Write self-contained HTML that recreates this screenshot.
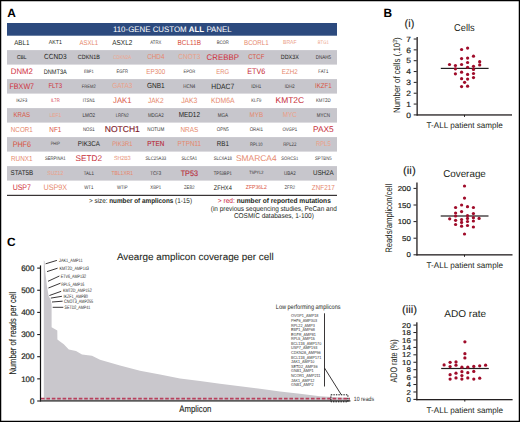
<!DOCTYPE html>
<html><head><meta charset="utf-8"><style>
html,body{margin:0;padding:0;background:#fff;}
body{width:520px;height:422px;overflow:hidden;}
svg{display:block;}
text{font-family:"Liberation Sans",sans-serif;text-rendering:geometricPrecision;}
</style></head><body>
<svg width="520" height="422" viewBox="0 0 520 422">
<rect width="520" height="422" fill="#fff"/>
<text x="7.30" y="17.40" font-size="11.90" fill="#000" font-weight="bold">A</text>
<rect x="7" y="23" width="330" height="12.7" fill="#2c4a7e"/>
<text x="172.3" y="31.8" font-size="8" fill="#fff" text-anchor="middle" textLength="118.7" lengthAdjust="spacingAndGlyphs">110-GENE CUSTOM <tspan font-weight="bold">ALL</tspan> PANEL</text>
<rect x="7" y="50.10" width="330" height="14.50" fill="#c7c6cc"/>
<rect x="7" y="79.10" width="330" height="14.50" fill="#c7c6cc"/>
<rect x="7" y="108.10" width="330" height="14.50" fill="#c7c6cc"/>
<rect x="7" y="137.10" width="330" height="14.50" fill="#c7c6cc"/>
<rect x="7" y="166.10" width="330" height="14.50" fill="#c7c6cc"/>
<rect x="7" y="194.80" width="330" height="1.1" fill="#231f20"/>
<text x="14.20" y="44.79" font-size="7.08" fill="#231f20" textLength="15.20" lengthAdjust="spacingAndGlyphs">ABL1</text>
<text x="48.80" y="44.37" font-size="5.93" fill="#231f20" textLength="13.00" lengthAdjust="spacingAndGlyphs">AKT1</text>
<text x="79.45" y="44.70" font-size="6.85" fill="#e6886c" textLength="18.70" lengthAdjust="spacingAndGlyphs">ASXL1</text>
<text x="112.35" y="44.86" font-size="7.29" fill="#231f20" textLength="19.90" lengthAdjust="spacingAndGlyphs">ASXL2</text>
<text x="150.35" y="44.06" font-size="5.04" fill="#3a3839" textLength="10.90" lengthAdjust="spacingAndGlyphs">ATRX</text>
<text x="177.55" y="44.88" font-size="7.34" fill="#d9543f" textLength="23.50" lengthAdjust="spacingAndGlyphs">BCL11B</text>
<text x="216.75" y="44.05" font-size="5.03" fill="#3a3839" textLength="12.10" lengthAdjust="spacingAndGlyphs">BCOR</text>
<text x="244.05" y="44.75" font-size="6.98" fill="#e6886c" textLength="24.50" lengthAdjust="spacingAndGlyphs">BCORL1</text>
<text x="283.05" y="44.32" font-size="5.77" fill="#eba088" textLength="13.50" lengthAdjust="spacingAndGlyphs">BRAF</text>
<text x="317.80" y="44.06" font-size="5.05" fill="#eea68e" textLength="11.00" lengthAdjust="spacingAndGlyphs">BTG1</text>
<text x="17.00" y="58.76" font-size="5.63" fill="#231f20" textLength="9.60" lengthAdjust="spacingAndGlyphs">CBL</text>
<text x="44.05" y="59.42" font-size="7.45" fill="#231f20" textLength="22.50" lengthAdjust="spacingAndGlyphs">CCND3</text>
<text x="77.85" y="58.95" font-size="6.15" fill="#231f20" textLength="21.90" lengthAdjust="spacingAndGlyphs">CDKN1B</text>
<text x="113.30" y="58.66" font-size="5.32" fill="#eea68e" textLength="18.00" lengthAdjust="spacingAndGlyphs">CDKN2A</text>
<text x="147.15" y="59.34" font-size="7.24" fill="#e6886c" textLength="17.30" lengthAdjust="spacingAndGlyphs">CHD4</text>
<text x="178.30" y="59.40" font-size="7.40" fill="#eba088" textLength="22.00" lengthAdjust="spacingAndGlyphs">CNOT3</text>
<text x="206.60" y="59.68" font-size="8.17" fill="#cf303c" textLength="32.40" lengthAdjust="spacingAndGlyphs">CREBBP</text>
<text x="248.20" y="59.23" font-size="6.93" fill="#d9543f" textLength="16.20" lengthAdjust="spacingAndGlyphs">CTCF</text>
<text x="280.80" y="58.95" font-size="6.15" fill="#231f20" textLength="18.00" lengthAdjust="spacingAndGlyphs">DDX3X</text>
<text x="315.65" y="58.69" font-size="5.42" fill="#3a3839" textLength="15.30" lengthAdjust="spacingAndGlyphs">DNAH5</text>
<text x="10.75" y="74.17" font-size="8.16" fill="#cf303c" textLength="22.10" lengthAdjust="spacingAndGlyphs">DNM2</text>
<text x="43.75" y="73.54" font-size="6.41" fill="#231f20" textLength="23.10" lengthAdjust="spacingAndGlyphs">DNMT3A</text>
<text x="83.95" y="72.92" font-size="4.65" fill="#3a3839" textLength="9.70" lengthAdjust="spacingAndGlyphs">EBF1</text>
<text x="116.50" y="73.04" font-size="5.01" fill="#3a3839" textLength="11.60" lengthAdjust="spacingAndGlyphs">EGFR</text>
<text x="146.35" y="73.82" font-size="7.18" fill="#e6886c" textLength="18.90" lengthAdjust="spacingAndGlyphs">EP300</text>
<text x="183.50" y="73.01" font-size="4.91" fill="#3a3839" textLength="11.60" lengthAdjust="spacingAndGlyphs">EPOR</text>
<text x="216.35" y="73.68" font-size="6.79" fill="#e6886c" textLength="12.90" lengthAdjust="spacingAndGlyphs">ERG</text>
<text x="247.30" y="74.13" font-size="8.04" fill="#c62c38" textLength="18.00" lengthAdjust="spacingAndGlyphs">ETV6</text>
<text x="281.85" y="73.79" font-size="7.09" fill="#e6886c" textLength="15.90" lengthAdjust="spacingAndGlyphs">EZH2</text>
<text x="318.30" y="73.11" font-size="5.18" fill="#3a3839" textLength="10.00" lengthAdjust="spacingAndGlyphs">FAT1</text>
<text x="9.50" y="88.62" font-size="8.02" fill="#cf303c" textLength="24.60" lengthAdjust="spacingAndGlyphs">FBXW7</text>
<text x="48.40" y="88.24" font-size="6.96" fill="#cf303c" textLength="13.80" lengthAdjust="spacingAndGlyphs">FLT3</text>
<text x="81.85" y="87.51" font-size="4.92" fill="#3a3839" textLength="13.90" lengthAdjust="spacingAndGlyphs">FREM2</text>
<text x="112.15" y="88.40" font-size="7.39" fill="#eba088" textLength="20.30" lengthAdjust="spacingAndGlyphs">GATA3</text>
<text x="146.90" y="88.42" font-size="7.45" fill="#231f20" textLength="17.80" lengthAdjust="spacingAndGlyphs">GNB1</text>
<text x="183.25" y="87.66" font-size="5.33" fill="#3a3839" textLength="12.10" lengthAdjust="spacingAndGlyphs">HCN4</text>
<text x="211.35" y="88.51" font-size="7.70" fill="#231f20" textLength="22.90" lengthAdjust="spacingAndGlyphs">HDAC7</text>
<text x="251.30" y="87.64" font-size="5.27" fill="#3a3839" textLength="10.00" lengthAdjust="spacingAndGlyphs">IDH1</text>
<text x="284.85" y="87.62" font-size="5.21" fill="#3a3839" textLength="9.90" lengthAdjust="spacingAndGlyphs">IDH2</text>
<text x="314.95" y="88.25" font-size="6.99" fill="#d9543f" textLength="16.70" lengthAdjust="spacingAndGlyphs">IKZF1</text>
<text x="16.25" y="102.00" font-size="4.89" fill="#3a3839" textLength="11.10" lengthAdjust="spacingAndGlyphs">IKZF3</text>
<text x="50.90" y="102.04" font-size="5.00" fill="#cf303c" textLength="8.80" lengthAdjust="spacingAndGlyphs">IL7R</text>
<text x="82.70" y="102.10" font-size="5.17" fill="#3a3839" textLength="12.20" lengthAdjust="spacingAndGlyphs">ITSN1</text>
<text x="113.05" y="103.17" font-size="8.16" fill="#d9543f" textLength="18.50" lengthAdjust="spacingAndGlyphs">JAK1</text>
<text x="147.95" y="102.93" font-size="7.49" fill="#e6886c" textLength="15.70" lengthAdjust="spacingAndGlyphs">JAK2</text>
<text x="181.20" y="103.02" font-size="7.73" fill="#e6886c" textLength="16.20" lengthAdjust="spacingAndGlyphs">JAK3</text>
<text x="211.10" y="103.02" font-size="7.74" fill="#e6886c" textLength="23.40" lengthAdjust="spacingAndGlyphs">KDM6A</text>
<text x="251.30" y="102.05" font-size="5.02" fill="#3a3839" textLength="10.00" lengthAdjust="spacingAndGlyphs">KLF9</text>
<text x="275.50" y="103.27" font-size="8.44" fill="#c62c38" textLength="28.60" lengthAdjust="spacingAndGlyphs">KMT2C</text>
<text x="315.90" y="102.13" font-size="5.24" fill="#3a3839" textLength="14.80" lengthAdjust="spacingAndGlyphs">KMT2D</text>
<text x="13.50" y="117.24" font-size="6.95" fill="#d9543f" textLength="16.60" lengthAdjust="spacingAndGlyphs">KRAS</text>
<text x="49.50" y="116.73" font-size="5.53" fill="#eba088" textLength="11.60" lengthAdjust="spacingAndGlyphs">LEF1</text>
<text x="82.45" y="116.75" font-size="5.60" fill="#3a3839" textLength="12.70" lengthAdjust="spacingAndGlyphs">LMO2</text>
<text x="115.70" y="116.54" font-size="5.00" fill="#3a3839" textLength="13.20" lengthAdjust="spacingAndGlyphs">LRFN2</text>
<text x="147.95" y="116.65" font-size="5.30" fill="#3a3839" textLength="15.70" lengthAdjust="spacingAndGlyphs">MDGA2</text>
<text x="178.65" y="117.36" font-size="7.28" fill="#231f20" textLength="21.30" lengthAdjust="spacingAndGlyphs">MED12</text>
<text x="217.65" y="116.69" font-size="5.43" fill="#3a3839" textLength="10.30" lengthAdjust="spacingAndGlyphs">MGA</text>
<text x="249.55" y="117.29" font-size="7.10" fill="#e6886c" textLength="13.50" lengthAdjust="spacingAndGlyphs">MYB</text>
<text x="282.80" y="117.32" font-size="7.18" fill="#eba088" textLength="14.00" lengthAdjust="spacingAndGlyphs">MYC</text>
<text x="316.70" y="116.68" font-size="5.38" fill="#3a3839" textLength="13.20" lengthAdjust="spacingAndGlyphs">MYCN</text>
<text x="10.85" y="131.80" font-size="7.13" fill="#e6886c" textLength="21.90" lengthAdjust="spacingAndGlyphs">NCOR1</text>
<text x="49.30" y="131.84" font-size="7.24" fill="#d9543f" textLength="12.00" lengthAdjust="spacingAndGlyphs">NF1</text>
<text x="82.90" y="131.11" font-size="5.20" fill="#3a3839" textLength="11.80" lengthAdjust="spacingAndGlyphs">NOS1</text>
<text x="104.75" y="132.31" font-size="8.54" fill="#7c1626" textLength="35.10" lengthAdjust="spacingAndGlyphs" stroke="#7c1626" stroke-width="0.12">NOTCH1</text>
<text x="147.35" y="131.23" font-size="5.53" fill="#3a3839" textLength="16.90" lengthAdjust="spacingAndGlyphs">NOTUM</text>
<text x="180.40" y="131.86" font-size="7.30" fill="#e6886c" textLength="17.80" lengthAdjust="spacingAndGlyphs">NRAS</text>
<text x="216.75" y="131.16" font-size="5.33" fill="#3a3839" textLength="12.10" lengthAdjust="spacingAndGlyphs">OPN5</text>
<text x="249.70" y="131.14" font-size="5.28" fill="#3a3839" textLength="13.20" lengthAdjust="spacingAndGlyphs">ORAI1</text>
<text x="282.40" y="131.10" font-size="5.15" fill="#3a3839" textLength="14.80" lengthAdjust="spacingAndGlyphs">OVGP1</text>
<text x="312.95" y="132.23" font-size="8.34" fill="#c62c38" textLength="20.70" lengthAdjust="spacingAndGlyphs">PAX5</text>
<text x="12.65" y="146.62" font-size="8.03" fill="#d9543f" textLength="18.30" lengthAdjust="spacingAndGlyphs">PHF6</text>
<text x="50.65" y="145.46" font-size="4.78" fill="#3a3839" textLength="9.30" lengthAdjust="spacingAndGlyphs">PHIP</text>
<text x="77.80" y="146.27" font-size="7.05" fill="#231f20" textLength="22.00" lengthAdjust="spacingAndGlyphs">PIK3CA</text>
<text x="112.15" y="146.15" font-size="6.72" fill="#e6886c" textLength="20.30" lengthAdjust="spacingAndGlyphs">PIK3R1</text>
<text x="147.35" y="146.34" font-size="7.22" fill="#b82636" textLength="16.90" lengthAdjust="spacingAndGlyphs" stroke="#b82636" stroke-width="0.12">PTEN</text>
<text x="177.55" y="146.34" font-size="7.23" fill="#e6886c" textLength="23.50" lengthAdjust="spacingAndGlyphs">PTPN11</text>
<text x="216.75" y="146.29" font-size="7.09" fill="#231f20" textLength="12.10" lengthAdjust="spacingAndGlyphs">RB1</text>
<text x="250.00" y="145.52" font-size="4.94" fill="#3a3839" textLength="12.60" lengthAdjust="spacingAndGlyphs">RPL10</text>
<text x="283.20" y="145.60" font-size="5.18" fill="#3a3839" textLength="13.20" lengthAdjust="spacingAndGlyphs">RPL22</text>
<text x="315.90" y="146.16" font-size="6.74" fill="#eba088" textLength="14.80" lengthAdjust="spacingAndGlyphs">RPL5</text>
<text x="11.05" y="160.84" font-size="7.23" fill="#e6886c" textLength="21.50" lengthAdjust="spacingAndGlyphs">RUNX1</text>
<text x="44.90" y="160.06" font-size="5.05" fill="#3a3839" textLength="20.80" lengthAdjust="spacingAndGlyphs">SERPINA1</text>
<text x="75.50" y="161.20" font-size="8.25" fill="#c62c38" textLength="26.60" lengthAdjust="spacingAndGlyphs">SETD2</text>
<text x="114.00" y="160.39" font-size="5.97" fill="#e6886c" textLength="16.60" lengthAdjust="spacingAndGlyphs">SH2B3</text>
<text x="145.40" y="160.10" font-size="5.16" fill="#3a3839" textLength="20.80" lengthAdjust="spacingAndGlyphs">SLC25A33</text>
<text x="181.45" y="160.06" font-size="5.06" fill="#3a3839" textLength="15.70" lengthAdjust="spacingAndGlyphs">SLC5A1</text>
<text x="213.65" y="160.09" font-size="5.13" fill="#3a3839" textLength="18.30" lengthAdjust="spacingAndGlyphs">SLC6A18</text>
<text x="235.95" y="161.26" font-size="8.42" fill="#e6886c" textLength="40.70" lengthAdjust="spacingAndGlyphs">SMARCA4</text>
<text x="281.35" y="160.02" font-size="4.93" fill="#3a3839" textLength="16.90" lengthAdjust="spacingAndGlyphs">SORCS1</text>
<text x="314.95" y="160.09" font-size="5.15" fill="#3a3839" textLength="16.70" lengthAdjust="spacingAndGlyphs">SPTBN5</text>
<text x="10.60" y="175.27" font-size="7.03" fill="#231f20" textLength="22.40" lengthAdjust="spacingAndGlyphs">STAT5B</text>
<text x="47.20" y="174.87" font-size="5.93" fill="#eba088" textLength="16.20" lengthAdjust="spacingAndGlyphs">SUZ12</text>
<text x="83.80" y="174.60" font-size="5.18" fill="#3a3839" textLength="10.00" lengthAdjust="spacingAndGlyphs">TAL1</text>
<text x="111.45" y="174.79" font-size="5.71" fill="#e6886c" textLength="21.70" lengthAdjust="spacingAndGlyphs">TBL1XR1</text>
<text x="150.35" y="174.62" font-size="5.23" fill="#3a3839" textLength="10.90" lengthAdjust="spacingAndGlyphs">TCF3</text>
<text x="180.70" y="175.63" font-size="8.04" fill="#b82636" textLength="17.20" lengthAdjust="spacingAndGlyphs" stroke="#b82636" stroke-width="0.12">TP53</text>
<text x="213.80" y="174.56" font-size="5.05" fill="#3a3839" textLength="18.00" lengthAdjust="spacingAndGlyphs">TP53BP1</text>
<text x="249.15" y="174.40" font-size="4.61" fill="#3a3839" textLength="14.30" lengthAdjust="spacingAndGlyphs">TSPYL2</text>
<text x="284.00" y="174.66" font-size="5.33" fill="#3a3839" textLength="11.60" lengthAdjust="spacingAndGlyphs">UBA2</text>
<text x="312.95" y="175.28" font-size="7.08" fill="#231f20" textLength="20.70" lengthAdjust="spacingAndGlyphs">USH2A</text>
<text x="12.65" y="190.11" font-size="7.98" fill="#cf303c" textLength="18.30" lengthAdjust="spacingAndGlyphs">USP7</text>
<text x="43.50" y="190.13" font-size="8.04" fill="#e6886c" textLength="23.60" lengthAdjust="spacingAndGlyphs">USP9X</text>
<text x="84.20" y="189.12" font-size="5.23" fill="#3a3839" textLength="9.20" lengthAdjust="spacingAndGlyphs">WT1</text>
<text x="116.95" y="189.09" font-size="5.14" fill="#3a3839" textLength="10.70" lengthAdjust="spacingAndGlyphs">WTIP</text>
<text x="150.35" y="189.08" font-size="5.12" fill="#3a3839" textLength="10.90" lengthAdjust="spacingAndGlyphs">XBP1</text>
<text x="184.00" y="189.07" font-size="5.09" fill="#3a3839" textLength="10.60" lengthAdjust="spacingAndGlyphs">ZEB2</text>
<text x="213.80" y="189.57" font-size="6.48" fill="#231f20" textLength="18.00" lengthAdjust="spacingAndGlyphs">ZFHX4</text>
<text x="245.80" y="189.33" font-size="5.82" fill="#d9543f" textLength="21.00" lengthAdjust="spacingAndGlyphs">ZFP36L2</text>
<text x="284.55" y="189.05" font-size="5.04" fill="#3a3839" textLength="10.50" lengthAdjust="spacingAndGlyphs">ZFR2</text>
<text x="311.85" y="189.84" font-size="7.23" fill="#e6886c" textLength="22.90" lengthAdjust="spacingAndGlyphs">ZNF217</text>
<text x="89" y="202.9" font-size="7.0" fill="#231f20" textLength="103" lengthAdjust="spacingAndGlyphs">&gt; size: <tspan font-weight="bold">number of amplicons</tspan> (1-15)</text>
<text x="217.8" y="202.9" font-size="7.0" fill="#231f20" textLength="113" lengthAdjust="spacingAndGlyphs"><tspan fill="#c8203a">&gt; red:</tspan> <tspan font-weight="bold">number of reported mutations</tspan></text>
<text x="210.80" y="210.60" font-size="7.00" fill="#231f20" textLength="126.00" lengthAdjust="spacingAndGlyphs">(in previous sequencing studies, PeCan and</text>
<text x="233.90" y="218.30" font-size="7.00" fill="#231f20" textLength="80.00" lengthAdjust="spacingAndGlyphs">COSMIC databases, 1-100)</text>
<text x="7.10" y="245.60" font-size="11.90" fill="#000" font-weight="bold">C</text>
<text x="116.90" y="259.90" font-size="9.80" fill="#231f20" textLength="156.80" lengthAdjust="spacingAndGlyphs" stroke="#231f20" stroke-width="0.08">Avearge amplicon coverage per cell</text>
<polygon points="43.8,400.5 43.8,260.3 44.6,261.5 45.1,270.0 46.0,278.0 46.8,285.0 47.8,291.0 48.6,296.0 50.8,300.0 51.6,305.0 51.6,327.2 57.3,330.4 57.4,339.6 60.0,341.5 63.8,344.2 68.8,349.4 76.0,351.1 82.0,354.6 92.0,355.8 100.0,359.8 120.0,365.4 140.0,370.8 160.0,374.6 180.0,378.5 200.0,381.1 220.0,383.8 240.0,386.2 260.0,388.7 280.0,391.5 300.0,393.8 320.0,396.2 340.0,397.5 350.0,398.0 350,400.5" fill="#c9c7cc"/>
<line x1="41" y1="398.6" x2="350" y2="398.6" stroke="#b8405c" stroke-width="1.7" stroke-dasharray="3.6 1.8"/>
<rect x="39.9" y="265.4" width="1.2" height="136.2" fill="#111"/>
<rect x="40.4" y="400.2" width="310" height="1.4" fill="#3a3a3a"/>
<rect x="37.2" y="400.45" width="3.2" height="1.1" fill="#231f20"/>
<text x="30.05" y="403.75" font-size="8.00" fill="#231f20" textLength="4.45" lengthAdjust="spacingAndGlyphs" stroke="#231f20" stroke-width="0.22">0</text>
<rect x="37.2" y="378.30" width="3.2" height="1.1" fill="#231f20"/>
<text x="21.15" y="381.60" font-size="8.00" fill="#231f20" textLength="13.35" lengthAdjust="spacingAndGlyphs" stroke="#231f20" stroke-width="0.22">100</text>
<rect x="37.2" y="356.15" width="3.2" height="1.1" fill="#231f20"/>
<text x="21.15" y="359.45" font-size="8.00" fill="#231f20" textLength="13.35" lengthAdjust="spacingAndGlyphs" stroke="#231f20" stroke-width="0.22">200</text>
<rect x="37.2" y="334.00" width="3.2" height="1.1" fill="#231f20"/>
<text x="21.15" y="337.30" font-size="8.00" fill="#231f20" textLength="13.35" lengthAdjust="spacingAndGlyphs" stroke="#231f20" stroke-width="0.22">300</text>
<rect x="37.2" y="311.85" width="3.2" height="1.1" fill="#231f20"/>
<text x="21.15" y="315.15" font-size="8.00" fill="#231f20" textLength="13.35" lengthAdjust="spacingAndGlyphs" stroke="#231f20" stroke-width="0.22">400</text>
<rect x="37.2" y="289.70" width="3.2" height="1.1" fill="#231f20"/>
<text x="21.15" y="293.00" font-size="8.00" fill="#231f20" textLength="13.35" lengthAdjust="spacingAndGlyphs" stroke="#231f20" stroke-width="0.22">500</text>
<rect x="37.2" y="267.55" width="3.2" height="1.1" fill="#231f20"/>
<text x="21.15" y="270.85" font-size="8.00" fill="#231f20" textLength="13.35" lengthAdjust="spacingAndGlyphs" stroke="#231f20" stroke-width="0.22">600</text>
<text transform="translate(15.7,333.1) rotate(-90)" font-size="9.6" fill="#231f20" stroke="#231f20" stroke-width="0.12" text-anchor="middle" textLength="83" lengthAdjust="spacingAndGlyphs">Number of reads per cell</text>
<text x="179.20" y="412.30" font-size="9.30" fill="#231f20" textLength="32.30" lengthAdjust="spacingAndGlyphs" stroke="#231f20" stroke-width="0.1">Amplicon</text>
<line x1="45.6" y1="263.8" x2="56.9" y2="260.4" stroke="#231f20" stroke-width="0.9"/>
<text x="59.10" y="262.15" font-size="4.90" fill="#2a2a2a" textLength="23.50" lengthAdjust="spacingAndGlyphs">JAK1_AMP11</text>
<line x1="47" y1="271.6" x2="57.6" y2="268.2" stroke="#231f20" stroke-width="0.9"/>
<text x="59.40" y="270.25" font-size="4.90" fill="#2a2a2a" textLength="29.60" lengthAdjust="spacingAndGlyphs">KMT2D_AMP143</text>
<line x1="48" y1="281.3" x2="59.4" y2="276" stroke="#231f20" stroke-width="0.9"/>
<text x="60.80" y="278.05" font-size="4.90" fill="#2a2a2a" textLength="25.30" lengthAdjust="spacingAndGlyphs">ETV6_AMP132</text>
<line x1="48.4" y1="288" x2="60.5" y2="283.2" stroke="#231f20" stroke-width="0.9"/>
<text x="61.20" y="285.95" font-size="4.90" fill="#2a2a2a" textLength="23.20" lengthAdjust="spacingAndGlyphs">RPL5_AMP16</text>
<line x1="49.4" y1="295.5" x2="61.2" y2="291.3" stroke="#231f20" stroke-width="0.9"/>
<text x="63.00" y="291.65" font-size="4.90" fill="#2a2a2a" textLength="28.70" lengthAdjust="spacingAndGlyphs">KMT2D_AMP152</text>
<line x1="50.8" y1="298.1" x2="61.9" y2="296.3" stroke="#231f20" stroke-width="0.9"/>
<text x="63.60" y="298.25" font-size="4.90" fill="#2a2a2a" textLength="24.20" lengthAdjust="spacingAndGlyphs">IKZF1_AMP80</text>
<line x1="52" y1="302" x2="62.6" y2="301.2" stroke="#231f20" stroke-width="0.9"/>
<text x="64.00" y="303.45" font-size="4.90" fill="#2a2a2a" textLength="29.20" lengthAdjust="spacingAndGlyphs">CNOT3_AMP255</text>
<line x1="52.7" y1="307.3" x2="63.3" y2="307.3" stroke="#231f20" stroke-width="0.9"/>
<text x="64.50" y="309.05" font-size="4.90" fill="#2a2a2a" textLength="25.90" lengthAdjust="spacingAndGlyphs">SETD2_AMP41</text>
<text x="275.80" y="309.00" font-size="6.60" fill="#231f20" textLength="64.70" lengthAdjust="spacingAndGlyphs">Low performing amplicons</text>
<text x="291.00" y="317.40" font-size="4.30" fill="#333" textLength="27.40" lengthAdjust="spacingAndGlyphs">OVGP1_AMP18</text>
<text x="291.00" y="321.98" font-size="4.30" fill="#333" textLength="26.14" lengthAdjust="spacingAndGlyphs">PHF6_AMP303</text>
<text x="291.00" y="326.56" font-size="4.30" fill="#333" textLength="23.84" lengthAdjust="spacingAndGlyphs">RPL22_AMP3</text>
<text x="291.00" y="331.14" font-size="4.30" fill="#333" textLength="23.84" lengthAdjust="spacingAndGlyphs">EBF1_AMP68</text>
<text x="291.00" y="335.72" font-size="4.30" fill="#333" textLength="24.88" lengthAdjust="spacingAndGlyphs">EGFR_AMP81</text>
<text x="291.00" y="340.30" font-size="4.30" fill="#333" textLength="23.84" lengthAdjust="spacingAndGlyphs">RPL5_AMP15</text>
<text x="291.00" y="344.88" font-size="4.30" fill="#333" textLength="30.26" lengthAdjust="spacingAndGlyphs">BCL11B_AMP170</text>
<text x="291.00" y="349.46" font-size="4.30" fill="#333" textLength="26.35" lengthAdjust="spacingAndGlyphs">USP7_AMP193</text>
<text x="291.00" y="354.04" font-size="4.30" fill="#333" textLength="29.69" lengthAdjust="spacingAndGlyphs">CDKN2A_AMP96</text>
<text x="291.00" y="358.62" font-size="4.30" fill="#333" textLength="30.26" lengthAdjust="spacingAndGlyphs">BCL11B_AMP171</text>
<text x="291.00" y="363.20" font-size="4.30" fill="#333" textLength="23.42" lengthAdjust="spacingAndGlyphs">JAK1_AMP10</text>
<text x="291.00" y="367.78" font-size="4.30" fill="#333" textLength="26.56" lengthAdjust="spacingAndGlyphs">SETD2_AMP36</text>
<text x="291.00" y="372.36" font-size="4.30" fill="#333" textLength="22.58" lengthAdjust="spacingAndGlyphs">GNB1_AMP1</text>
<text x="291.00" y="376.94" font-size="4.30" fill="#333" textLength="29.41" lengthAdjust="spacingAndGlyphs">NCOR1_AMP211</text>
<text x="291.00" y="381.52" font-size="4.30" fill="#333" textLength="23.42" lengthAdjust="spacingAndGlyphs">JAK1_AMP12</text>
<text x="291.00" y="386.10" font-size="4.30" fill="#333" textLength="22.58" lengthAdjust="spacingAndGlyphs">GNB1_AMP2</text>
<line x1="324.5" y1="313.3" x2="324.5" y2="386.5" stroke="#231f20" stroke-width="0.9"/>
<line x1="324.5" y1="368" x2="341.3" y2="394.8" stroke="#231f20" stroke-width="0.9"/>
<rect x="330.9" y="394.8" width="17.0" height="7.0" fill="none" stroke="#111" stroke-width="1.0" stroke-dasharray="1.4 1.1"/>
<text x="353.80" y="400.60" font-size="6.20" fill="#333" textLength="20.30" lengthAdjust="spacingAndGlyphs">10 reads</text>
<text x="383.60" y="16.90" font-size="11.90" fill="#000" font-weight="bold">B</text>
<text x="404.60" y="26.90" font-size="10.60" fill="#231f20" textLength="9.70" lengthAdjust="spacingAndGlyphs" stroke="#231f20" stroke-width="0.12">(i)</text>
<text x="464.40" y="30.90" font-size="9.90" fill="#231f20" text-anchor="middle" textLength="20.70" lengthAdjust="spacingAndGlyphs">Cells</text>
<rect x="416.50" y="37.00" width="1.3" height="78.60" fill="#231f20"/>
<rect x="416.50" y="114.30" width="95.50" height="1.3" fill="#231f20"/>
<rect x="464.00" y="114.90" width="1" height="2" fill="#231f20"/>
<rect x="413.70" y="114.40" width="3" height="1" fill="#231f20"/>
<text x="406.39" y="117.62" font-size="7.60" fill="#231f20" textLength="4.71" lengthAdjust="spacingAndGlyphs" stroke="#231f20" stroke-width="0.18">0</text>
<rect x="413.70" y="103.56" width="3" height="1" fill="#231f20"/>
<text x="406.39" y="106.78" font-size="7.60" fill="#231f20" textLength="4.71" lengthAdjust="spacingAndGlyphs" stroke="#231f20" stroke-width="0.18">1</text>
<rect x="413.70" y="92.72" width="3" height="1" fill="#231f20"/>
<text x="406.39" y="95.94" font-size="7.60" fill="#231f20" textLength="4.71" lengthAdjust="spacingAndGlyphs" stroke="#231f20" stroke-width="0.18">2</text>
<rect x="413.70" y="81.88" width="3" height="1" fill="#231f20"/>
<text x="406.39" y="85.10" font-size="7.60" fill="#231f20" textLength="4.71" lengthAdjust="spacingAndGlyphs" stroke="#231f20" stroke-width="0.18">3</text>
<rect x="413.70" y="71.04" width="3" height="1" fill="#231f20"/>
<text x="406.39" y="74.26" font-size="7.60" fill="#231f20" textLength="4.71" lengthAdjust="spacingAndGlyphs" stroke="#231f20" stroke-width="0.18">4</text>
<rect x="413.70" y="60.20" width="3" height="1" fill="#231f20"/>
<text x="406.39" y="63.42" font-size="7.60" fill="#231f20" textLength="4.71" lengthAdjust="spacingAndGlyphs" stroke="#231f20" stroke-width="0.18">5</text>
<rect x="413.70" y="49.36" width="3" height="1" fill="#231f20"/>
<text x="406.39" y="52.58" font-size="7.60" fill="#231f20" textLength="4.71" lengthAdjust="spacingAndGlyphs" stroke="#231f20" stroke-width="0.18">6</text>
<rect x="413.70" y="38.52" width="3" height="1" fill="#231f20"/>
<text x="406.39" y="41.74" font-size="7.60" fill="#231f20" textLength="4.71" lengthAdjust="spacingAndGlyphs" stroke="#231f20" stroke-width="0.18">7</text>
<text transform="translate(400.4,75.2) rotate(-90)" font-size="9.4" fill="#231f20" text-anchor="middle" textLength="75.5" lengthAdjust="spacingAndGlyphs">Number of cells (.10<tspan font-size="6" dy="-3">3</tspan><tspan dy="3">)</tspan></text>
<rect x="440.8" y="67.8" width="47.8" height="1.2" fill="#231f20"/>
<circle cx="449.5" cy="64.5" r="1.62" fill="#a00c2a"/>
<circle cx="455.4" cy="65.5" r="1.62" fill="#a00c2a"/>
<circle cx="455.4" cy="68.8" r="1.62" fill="#a00c2a"/>
<circle cx="455.4" cy="73.8" r="1.62" fill="#a00c2a"/>
<circle cx="461.6" cy="49.5" r="1.62" fill="#a00c2a"/>
<circle cx="461.6" cy="58.6" r="1.62" fill="#a00c2a"/>
<circle cx="461.6" cy="64.5" r="1.62" fill="#a00c2a"/>
<circle cx="461.6" cy="72.2" r="1.62" fill="#a00c2a"/>
<circle cx="461.6" cy="78.7" r="1.62" fill="#a00c2a"/>
<circle cx="461.6" cy="86.6" r="1.62" fill="#a00c2a"/>
<circle cx="464.6" cy="82.3" r="1.62" fill="#a00c2a"/>
<circle cx="467.6" cy="48.1" r="1.62" fill="#a00c2a"/>
<circle cx="467.6" cy="58.1" r="1.62" fill="#a00c2a"/>
<circle cx="467.6" cy="62.5" r="1.62" fill="#a00c2a"/>
<circle cx="467.6" cy="67.3" r="1.62" fill="#a00c2a"/>
<circle cx="467.6" cy="74.4" r="1.62" fill="#a00c2a"/>
<circle cx="467.6" cy="79.1" r="1.62" fill="#a00c2a"/>
<circle cx="467.6" cy="86.2" r="1.62" fill="#a00c2a"/>
<circle cx="473.5" cy="56.2" r="1.62" fill="#a00c2a"/>
<circle cx="473.5" cy="66.3" r="1.62" fill="#a00c2a"/>
<circle cx="473.5" cy="69.4" r="1.62" fill="#a00c2a"/>
<circle cx="473.5" cy="73.5" r="1.62" fill="#a00c2a"/>
<circle cx="473.5" cy="77.6" r="1.62" fill="#a00c2a"/>
<circle cx="479.7" cy="61.7" r="1.62" fill="#a00c2a"/>
<circle cx="479.7" cy="64.9" r="1.62" fill="#a00c2a"/>
<text x="426.60" y="128.40" font-size="8.20" fill="#231f20" textLength="76.30" lengthAdjust="spacingAndGlyphs">T-ALL patient sample</text>
<text x="403.00" y="174.00" font-size="10.60" fill="#231f20" textLength="12.70" lengthAdjust="spacingAndGlyphs" stroke="#231f20" stroke-width="0.12">(ii)</text>
<text x="464.50" y="177.00" font-size="9.90" fill="#231f20" text-anchor="middle" textLength="42.70" lengthAdjust="spacingAndGlyphs">Coverage</text>
<rect x="416.30" y="182.50" width="1.3" height="73.00" fill="#231f20"/>
<rect x="416.30" y="254.20" width="96.20" height="1.3" fill="#231f20"/>
<rect x="464.00" y="254.80" width="1" height="2" fill="#231f20"/>
<rect x="413.50" y="254.30" width="3" height="1" fill="#231f20"/>
<text x="406.50" y="257.34" font-size="7.10" fill="#231f20" textLength="4.40" lengthAdjust="spacingAndGlyphs" stroke="#231f20" stroke-width="0.18">0</text>
<rect x="413.50" y="237.70" width="3" height="1" fill="#231f20"/>
<text x="402.10" y="240.74" font-size="7.10" fill="#231f20" textLength="8.80" lengthAdjust="spacingAndGlyphs" stroke="#231f20" stroke-width="0.18">50</text>
<rect x="413.50" y="221.10" width="3" height="1" fill="#231f20"/>
<text x="397.69" y="224.14" font-size="7.10" fill="#231f20" textLength="13.21" lengthAdjust="spacingAndGlyphs" stroke="#231f20" stroke-width="0.18">100</text>
<rect x="413.50" y="204.50" width="3" height="1" fill="#231f20"/>
<text x="397.69" y="207.54" font-size="7.10" fill="#231f20" textLength="13.21" lengthAdjust="spacingAndGlyphs" stroke="#231f20" stroke-width="0.18">150</text>
<rect x="413.50" y="187.90" width="3" height="1" fill="#231f20"/>
<text x="397.69" y="190.94" font-size="7.10" fill="#231f20" textLength="13.21" lengthAdjust="spacingAndGlyphs" stroke="#231f20" stroke-width="0.18">200</text>
<text transform="translate(391.7,218.25) rotate(-90)" font-size="9.4" fill="#231f20" text-anchor="middle" textLength="69.1" lengthAdjust="spacingAndGlyphs">Reads/amplicon/cell</text>
<rect x="440.7" y="215.4" width="47.8" height="1.2" fill="#231f20"/>
<circle cx="464.5" cy="186" r="1.62" fill="#a00c2a"/>
<circle cx="464.5" cy="198.1" r="1.62" fill="#a00c2a"/>
<circle cx="461.6" cy="205" r="1.62" fill="#a00c2a"/>
<circle cx="455.6" cy="207.5" r="1.62" fill="#a00c2a"/>
<circle cx="467.5" cy="206.7" r="1.62" fill="#a00c2a"/>
<circle cx="473.4" cy="207.5" r="1.62" fill="#a00c2a"/>
<circle cx="461.6" cy="211.6" r="1.62" fill="#a00c2a"/>
<circle cx="455.6" cy="213" r="1.62" fill="#a00c2a"/>
<circle cx="473.4" cy="213.6" r="1.62" fill="#a00c2a"/>
<circle cx="455.6" cy="216" r="1.62" fill="#a00c2a"/>
<circle cx="467.5" cy="215.6" r="1.62" fill="#a00c2a"/>
<circle cx="449.7" cy="218.8" r="1.62" fill="#a00c2a"/>
<circle cx="461.6" cy="219.5" r="1.62" fill="#a00c2a"/>
<circle cx="467.5" cy="218.4" r="1.62" fill="#a00c2a"/>
<circle cx="473.4" cy="217.7" r="1.62" fill="#a00c2a"/>
<circle cx="479.1" cy="218.4" r="1.62" fill="#a00c2a"/>
<circle cx="455.6" cy="220.3" r="1.62" fill="#a00c2a"/>
<circle cx="461.6" cy="222.4" r="1.62" fill="#a00c2a"/>
<circle cx="467.5" cy="221.5" r="1.62" fill="#a00c2a"/>
<circle cx="473.4" cy="221" r="1.62" fill="#a00c2a"/>
<circle cx="455.6" cy="224.5" r="1.62" fill="#a00c2a"/>
<circle cx="461.6" cy="226.2" r="1.62" fill="#a00c2a"/>
<circle cx="467.5" cy="225.5" r="1.62" fill="#a00c2a"/>
<circle cx="473.4" cy="227" r="1.62" fill="#a00c2a"/>
<circle cx="464.5" cy="234" r="1.62" fill="#a00c2a"/>
<text x="426.50" y="268.20" font-size="8.20" fill="#231f20" textLength="76.50" lengthAdjust="spacingAndGlyphs">T-ALL patient sample</text>
<text x="401.90" y="312.80" font-size="10.60" fill="#231f20" textLength="15.10" lengthAdjust="spacingAndGlyphs" stroke="#231f20" stroke-width="0.12">(iii)</text>
<text x="465.20" y="317.10" font-size="9.90" fill="#231f20" text-anchor="middle" textLength="41.90" lengthAdjust="spacingAndGlyphs">ADO rate</text>
<rect x="416.20" y="322.30" width="1.3" height="78.00" fill="#231f20"/>
<rect x="416.20" y="399.00" width="96.40" height="1.3" fill="#231f20"/>
<rect x="464.30" y="399.60" width="1" height="2" fill="#231f20"/>
<rect x="413.40" y="398.90" width="3" height="1" fill="#231f20"/>
<text x="406.40" y="401.94" font-size="7.10" fill="#231f20" textLength="4.40" lengthAdjust="spacingAndGlyphs" stroke="#231f20" stroke-width="0.18">0</text>
<rect x="413.40" y="391.47" width="3" height="1" fill="#231f20"/>
<text x="406.40" y="394.51" font-size="7.10" fill="#231f20" textLength="4.40" lengthAdjust="spacingAndGlyphs" stroke="#231f20" stroke-width="0.18">2</text>
<rect x="413.40" y="384.04" width="3" height="1" fill="#231f20"/>
<text x="406.40" y="387.08" font-size="7.10" fill="#231f20" textLength="4.40" lengthAdjust="spacingAndGlyphs" stroke="#231f20" stroke-width="0.18">4</text>
<rect x="413.40" y="376.61" width="3" height="1" fill="#231f20"/>
<text x="406.40" y="379.65" font-size="7.10" fill="#231f20" textLength="4.40" lengthAdjust="spacingAndGlyphs" stroke="#231f20" stroke-width="0.18">6</text>
<rect x="413.40" y="369.18" width="3" height="1" fill="#231f20"/>
<text x="406.40" y="372.22" font-size="7.10" fill="#231f20" textLength="4.40" lengthAdjust="spacingAndGlyphs" stroke="#231f20" stroke-width="0.18">8</text>
<rect x="413.40" y="361.75" width="3" height="1" fill="#231f20"/>
<text x="402.00" y="364.79" font-size="7.10" fill="#231f20" textLength="8.80" lengthAdjust="spacingAndGlyphs" stroke="#231f20" stroke-width="0.18">10</text>
<rect x="413.40" y="354.32" width="3" height="1" fill="#231f20"/>
<text x="402.00" y="357.36" font-size="7.10" fill="#231f20" textLength="8.80" lengthAdjust="spacingAndGlyphs" stroke="#231f20" stroke-width="0.18">12</text>
<rect x="413.40" y="346.89" width="3" height="1" fill="#231f20"/>
<text x="402.00" y="349.93" font-size="7.10" fill="#231f20" textLength="8.80" lengthAdjust="spacingAndGlyphs" stroke="#231f20" stroke-width="0.18">14</text>
<rect x="413.40" y="339.46" width="3" height="1" fill="#231f20"/>
<text x="402.00" y="342.50" font-size="7.10" fill="#231f20" textLength="8.80" lengthAdjust="spacingAndGlyphs" stroke="#231f20" stroke-width="0.18">16</text>
<rect x="413.40" y="332.03" width="3" height="1" fill="#231f20"/>
<text x="402.00" y="335.07" font-size="7.10" fill="#231f20" textLength="8.80" lengthAdjust="spacingAndGlyphs" stroke="#231f20" stroke-width="0.18">18</text>
<rect x="413.40" y="324.60" width="3" height="1" fill="#231f20"/>
<text x="402.00" y="327.64" font-size="7.10" fill="#231f20" textLength="8.80" lengthAdjust="spacingAndGlyphs" stroke="#231f20" stroke-width="0.18">20</text>
<text transform="translate(396.5,360.9) rotate(-90)" font-size="9.6" fill="#231f20" text-anchor="middle" textLength="43.2" lengthAdjust="spacingAndGlyphs">ADO rate (%)</text>
<rect x="441.2" y="367.9" width="47.6" height="1.2" fill="#231f20"/>
<circle cx="464.9" cy="341.8" r="1.62" fill="#a00c2a"/>
<circle cx="464.9" cy="353.7" r="1.62" fill="#a00c2a"/>
<circle cx="464.9" cy="357.9" r="1.62" fill="#a00c2a"/>
<circle cx="444.1" cy="364.9" r="1.62" fill="#a00c2a"/>
<circle cx="450.1" cy="362.3" r="1.62" fill="#a00c2a"/>
<circle cx="450.1" cy="366.6" r="1.62" fill="#a00c2a"/>
<circle cx="456" cy="361.9" r="1.62" fill="#a00c2a"/>
<circle cx="456" cy="365.2" r="1.62" fill="#a00c2a"/>
<circle cx="461.9" cy="367.2" r="1.62" fill="#a00c2a"/>
<circle cx="467.8" cy="367.2" r="1.62" fill="#a00c2a"/>
<circle cx="473.8" cy="366.4" r="1.62" fill="#a00c2a"/>
<circle cx="479.7" cy="365.8" r="1.62" fill="#a00c2a"/>
<circle cx="485.6" cy="365.2" r="1.62" fill="#a00c2a"/>
<circle cx="450.1" cy="374.7" r="1.62" fill="#a00c2a"/>
<circle cx="450.1" cy="379.1" r="1.62" fill="#a00c2a"/>
<circle cx="456" cy="373.2" r="1.62" fill="#a00c2a"/>
<circle cx="456" cy="377.9" r="1.62" fill="#a00c2a"/>
<circle cx="461.9" cy="371.7" r="1.62" fill="#a00c2a"/>
<circle cx="461.9" cy="375.6" r="1.62" fill="#a00c2a"/>
<circle cx="461.9" cy="379.1" r="1.62" fill="#a00c2a"/>
<circle cx="467.8" cy="372.7" r="1.62" fill="#a00c2a"/>
<circle cx="467.8" cy="377.9" r="1.62" fill="#a00c2a"/>
<circle cx="473.8" cy="371.4" r="1.62" fill="#a00c2a"/>
<circle cx="473.8" cy="379.1" r="1.62" fill="#a00c2a"/>
<circle cx="479.7" cy="378.2" r="1.62" fill="#a00c2a"/>
<text x="426.60" y="413.20" font-size="8.20" fill="#231f20" textLength="76.50" lengthAdjust="spacingAndGlyphs">T-ALL patient sample</text>
<rect x="0.6" y="0.6" width="518.8" height="420.8" fill="none" stroke="#000" stroke-width="1.3"/>
</svg>
</body></html>
